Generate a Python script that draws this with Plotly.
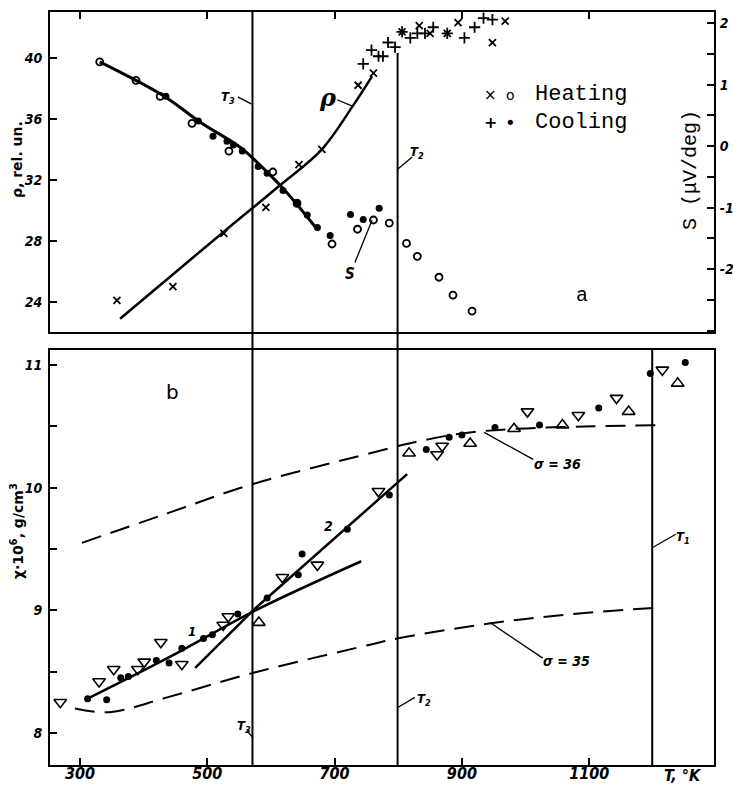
import plotly.graph_objects as go

# ---------------- data ----------------
# panel a: resistivity rho (rel. un.)
rho_heat_T = [358, 446, 526, 592, 644, 680, 737, 761, 806, 833, 850, 877, 894, 948, 968]
rho_heat = [24.1, 25.0, 28.5, 30.2, 33.0, 34.0, 38.2, 39.0, 41.7, 42.1, 41.6, 41.6, 42.3, 41.0, 42.4]
rho_cool_T = [745, 758, 769, 776, 784, 795, 806, 819, 830, 842, 855, 877, 904, 920, 934, 948]
rho_cool = [39.6, 40.5, 40.1, 40.1, 41.0, 40.7, 41.7, 41.3, 41.6, 41.6, 42.0, 41.6, 41.3, 42.0, 42.6, 42.5]
rho_fit_T = [363, 450, 526, 610, 680, 728, 759]
rho_fit = [22.9, 25.95, 28.6, 31.5, 34.0, 36.8, 38.8]

# panel a: thermo-emf S (uV/deg)
S_heat_T = [331, 388, 426, 476, 534, 603, 641, 696, 736, 761, 786, 813, 830, 864, 886, 916]
S_heat = [1.37, 1.07, 0.81, 0.37, -0.08, -0.42, -0.93, -1.59, -1.35, -1.20, -1.25, -1.58, -1.79, -2.13, -2.42, -2.68]
S_cool_T = [435, 486, 509, 531, 541, 555, 580, 594, 619, 641, 657, 673, 693, 725, 745, 770]
S_cool = [0.81, 0.41, 0.16, 0.08, 0.02, -0.08, -0.33, -0.44, -0.72, -0.91, -1.12, -1.32, -1.45, -1.11, -1.19, -1.01]
S_fit_T = [331, 431, 489, 552, 575, 622, 671]
S_fit = [1.37, 0.82, 0.39, -0.02, -0.23, -0.72, -1.33]

# panel b: susceptibility chi*10^6
tri_dn_T = [269, 330, 353, 391, 401, 427, 460, 525, 533, 618, 673, 769, 861, 869, 1003, 1083, 1143, 1215]
tri_dn = [8.25, 8.42, 8.52, 8.52, 8.58, 8.74, 8.56, 8.88, 8.95, 9.27, 9.37, 9.97, 10.27, 10.34, 10.62, 10.59, 10.73, 10.96]
tri_up_T = [581, 817, 913, 982, 1058, 1162, 1239]
tri_up = [8.90, 10.28, 10.36, 10.48, 10.51, 10.62, 10.85]
dot_T = [312, 342, 364, 376, 420, 440, 460, 494, 508, 548, 594, 643, 649, 720, 786, 844, 880, 900, 952, 1022, 1115, 1196, 1251]
dot_chi = [8.28, 8.27, 8.45, 8.46, 8.59, 8.57, 8.69, 8.77, 8.80, 8.97, 9.10, 9.29, 9.46, 9.66, 9.94, 10.31, 10.41, 10.43, 10.49, 10.51, 10.65, 10.93, 11.02]
line1_T = [312, 441, 572, 742]
line1 = [8.28, 8.62, 8.99, 9.40]
line2_T = [481, 572, 814]
line2 = [8.53, 9.0, 10.11]
sig36_T = [303, 437, 572, 756, 817, 897, 987, 1107, 1217]
sig36 = [9.55, 9.79, 10.03, 10.28, 10.36, 10.44, 10.48, 10.50, 10.51]
sig35_T = [292, 347, 437, 572, 756, 798, 940, 1055, 1201]
sig35 = [8.20, 8.17, 8.29, 8.49, 8.72, 8.77, 8.89, 8.96, 9.02]

# transition temperatures
T3, T2, T1 = 571, 799, 1199

x_ticks = [300, 500, 700, 900, 1100]
rho_ticks = [24, 28, 32, 36, 40]
S_ticks = [-2, -1, 0, 1, 2]
S_ticktext = ["-2", "-1", "0", "1", "2"]
chi_ticks = [8, 9, 10, 11]

# ---------------- figure ----------------
W, H = 733, 785
def py(p):
    return 1 - p / H
def px(p):
    return p / W

BLK = "black"
narrow = "Liberation Sans Narrow, Arial Narrow, DejaVu Sans Condensed, sans-serif"
ytickfont = dict(family=narrow, size=14, color=BLK, weight="bold", style="italic")
xtickfont = dict(family=narrow, size=16, color=BLK, weight="bold", style="italic")
mono = "Courier New, Liberation Mono, DejaVu Sans Mono, monospace"

fig = go.Figure()

# top panel traces (x2, y2 = rho ; x2, y3 = S)
fig.add_trace(go.Scatter(x=rho_fit_T, y=rho_fit, xaxis="x2", yaxis="y2", mode="lines",
                         line=dict(color=BLK, width=2.5, shape="spline")))
fig.add_trace(go.Scatter(x=rho_heat_T, y=rho_heat, xaxis="x2", yaxis="y2", mode="markers",
                         marker=dict(symbol="x-thin", size=7, line=dict(color=BLK, width=1.8))))
fig.add_trace(go.Scatter(x=rho_cool_T, y=rho_cool, xaxis="x2", yaxis="y2", mode="markers",
                         marker=dict(symbol="cross-thin", size=8, line=dict(color=BLK, width=1.8))))
fig.add_trace(go.Scatter(x=S_fit_T, y=S_fit, xaxis="x2", yaxis="y3", mode="lines",
                         line=dict(color=BLK, width=3, shape="spline")))
fig.add_trace(go.Scatter(x=S_heat_T, y=S_heat, xaxis="x2", yaxis="y3", mode="markers",
                         marker=dict(symbol="circle-open", size=7, color=BLK, line=dict(color=BLK, width=1.8))))
fig.add_trace(go.Scatter(x=S_cool_T, y=S_cool, xaxis="x2", yaxis="y3", mode="markers",
                         marker=dict(symbol="circle", size=7, color=BLK)))

# bottom panel traces (x, y)
fig.add_trace(go.Scatter(x=sig36_T, y=sig36, mode="lines",
                         line=dict(color=BLK, width=2, dash="20px,10px", shape="spline")))
fig.add_trace(go.Scatter(x=sig35_T, y=sig35, mode="lines",
                         line=dict(color=BLK, width=2, dash="20px,10px", shape="spline")))
fig.add_trace(go.Scatter(x=line1_T, y=line1, mode="lines",
                         line=dict(color=BLK, width=2.5, shape="spline")))
fig.add_trace(go.Scatter(x=line2_T, y=line2, mode="lines",
                         line=dict(color=BLK, width=2.5)))
fig.add_trace(go.Scatter(x=tri_dn_T, y=tri_dn, mode="markers",
                         marker=dict(symbol="triangle-down-open", size=11, color=BLK, line=dict(color=BLK, width=1.6))))
fig.add_trace(go.Scatter(x=tri_up_T, y=tri_up, mode="markers",
                         marker=dict(symbol="triangle-up-open", size=11, color=BLK, line=dict(color=BLK, width=1.6))))
fig.add_trace(go.Scatter(x=dot_T, y=dot_chi, mode="markers",
                         marker=dict(symbol="circle", size=7, color=BLK)))

xl, xr = 50 / W, 714 / W
top_dom = [py(332), py(12)]
bot_dom = [py(765), py(350)]
xrange_ = [252.9, 1296.1]

axis_common = dict(showline=True, linecolor=BLK, linewidth=2, ticks="inside", tickcolor=BLK,
                   ticklen=7, tickwidth=1.5, showgrid=False, zeroline=False, automargin=False)

fig.update_layout(
    width=W, height=H, margin=dict(l=0, r=0, t=0, b=0, autoexpand=False),
    paper_bgcolor="white", plot_bgcolor="white", showlegend=False,
    xaxis=dict(domain=[xl, xr], range=xrange_, anchor="y", tickvals=x_ticks, mirror=True,
               ticklabelstandoff=-7, tickfont=xtickfont, **axis_common),
    yaxis=dict(domain=bot_dom, range=[7.739, 11.122], anchor="x", tickvals=chi_ticks, mirror=True,
               minor=dict(dtick=0.5, ticks="inside", ticklen=7, tickcolor=BLK),
               ticklabelstandoff=3, tickfont=ytickfont, **axis_common),
    xaxis2=dict(domain=[xl, xr], range=xrange_, anchor="y2", side="top", tickvals=x_ticks,
                showticklabels=False, mirror=True, **axis_common),
    yaxis2=dict(domain=top_dom, range=[22.03, 43.0], anchor="x2", tickvals=rho_ticks,
                ticklabelstandoff=3, tickfont=ytickfont, **axis_common),
    yaxis3=dict(domain=top_dom, range=[-3.02, 2.18], anchor="x2", overlaying="y2", side="right",
                tickvals=S_ticks, ticktext=S_ticktext,
                minor=dict(dtick=0.5, ticks="inside", ticklen=7, tickcolor=BLK),
                ticklabelstandoff=1, tickfont=ytickfont, **axis_common),
)

# axis titles (drawn as rotated annotations, as in the original)
def vtitle(x, y, text, font):
    fig.add_annotation(xref="paper", yref="paper", x=px(x), y=py(y), text=text,
                       textangle=-90, showarrow=False, xanchor="center", yanchor="middle",
                       font=font)

vtitle(17, 160, "ρ, rel. un.", dict(family="DejaVu Sans", size=14, color=BLK, weight="bold"))
vtitle(17, 531, "χ·10<sup>6</sup>, g/cm<sup>3</sup>",
       dict(family="DejaVu Sans", size=14, color=BLK, weight="bold"))
vtitle(691, 170, "S (μV/deg)", dict(family=mono, size=20, color=BLK))

# vertical transition lines
lw = 2
fig.add_shape(type="line", xref="x", yref="paper", x0=T3, x1=T3, y0=py(765), y1=py(12),
              line=dict(color=BLK, width=lw))
fig.add_shape(type="line", xref="x", yref="paper", x0=T2, x1=T2, y0=py(765), y1=py(53),
              line=dict(color=BLK, width=lw))
fig.add_shape(type="line", xref="x", yref="paper", x0=T1, x1=T1, y0=py(765), y1=py(350),
              line=dict(color=BLK, width=lw))

def leader(xa, ya, x0, y0, x1, y1, w=1.3):
    fig.add_shape(type="line", xref=xa, yref=ya, x0=x0, y0=y0, x1=x1, y1=y1,
                  line=dict(color=BLK, width=w))

def label(xa, ya, x, y, text, size=14, family=None, bold=True, italic=True, xanchor="center"):
    f = dict(family=family or narrow, size=size, color=BLK)
    if bold:
        f["weight"] = "bold"
    if italic:
        f["style"] = "italic"
    fig.add_annotation(xref=xa, yref=ya, x=x, y=y, text=text, showarrow=False, font=f,
                       xanchor=xanchor, yanchor="middle")

# top panel labels
label("x2", "y2", 532, 37.4, "T<sub>3</sub>", 13)
leader("x2", "y2", 548, 37.44, 569, 36.98)
label("x2", "y2", 829, 33.8, "T<sub>2</sub>", 13)
leader("x2", "y2", 798, 32.66, 822, 33.5)
label("x2", "y2", 690, 37.4, "ρ", 24, family="DejaVu Serif")
leader("x2", "y2", 704, 37.25, 727, 36.85)
label("x2", "y3", 724, -2.07, "S", 15)
leader("x2", "y3", 732, -1.89, 759, -1.20)
label("x2", "y3", 1089, -2.42, "a", 20, family=mono, bold=False, italic=False)

# legend (symbols + words, typewriter style)
label("x2", "y2", 945, 37.57, "×", 15, family="DejaVu Sans", bold=False, italic=False)
label("x2", "y2", 976, 37.57, "o", 14, family="DejaVu Sans", bold=False, italic=False)
label("x2", "y2", 1011, 37.57, "Heating", 22, family=mono, bold=False, italic=False, xanchor="left")
label("x2", "y2", 945, 35.74, "+", 16, family="DejaVu Sans", bold=True, italic=False)
label("x2", "y2", 976, 35.74, "•", 18, family="DejaVu Sans", bold=False, italic=False)
label("x2", "y2", 1011, 35.74, "Cooling", 22, family=mono, bold=False, italic=False, xanchor="left")

# bottom panel labels
label("x", "y", 445, 10.78, "b", 20, family="DejaVu Sans", bold=False, italic=False)
label("x", "y", 476, 8.83, "1", 13)
label("x", "y", 690, 9.69, "2", 14)
label("x", "y", 1051, 10.19, "σ = 36", 14)
leader("x", "y", 935, 10.45, 1012, 10.23)
label("x", "y", 1064, 8.59, "σ = 35", 14)
leader("x", "y", 944, 8.90, 1027, 8.61)
label("x", "y", 1247, 9.59, "T<sub>1</sub>", 13)
leader("x", "y", 1199, 9.51, 1236, 9.62)
label("x", "y", 840, 8.27, "T<sub>2</sub>", 13)
leader("x", "y", 800, 8.21, 826, 8.29)
label("x", "y", 557, 8.05, "T<sub>3</sub>", 13)
leader("x", "y", 562, 8.02, 572, 7.96)
label("x", "paper", 1247, py(775), "T, °K", 16)

fig.write_html("out.html", config={"displayModeBar": False},
               post_script="document.body.style.margin='0';")
